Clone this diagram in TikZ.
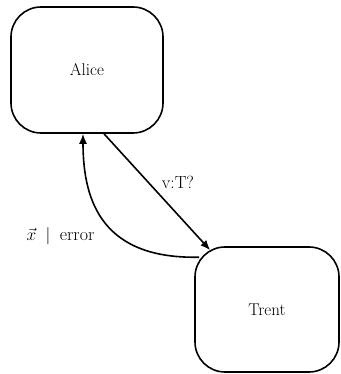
\documentclass[tikz,border=0pt]{standalone}
\usetikzlibrary{arrows.meta}
\begin{document}
\begin{tikzpicture}[x=1pt,y=1pt,
  party/.style={draw, line width=1.6pt, rounded corners=30pt, inner sep=0pt,
    font=\fontsize{17}{20}\selectfont},
  link/.style={line width=1.6pt, -{Latex[length=10pt,width=8pt]}},
  lbl/.style={inner sep=0pt, font=\fontsize{18}{21}\selectfont}]
  \useasboundingbox (0,0) rectangle (340,374);
  \node[party, minimum width=152pt, minimum height=126pt] (alice) at (87,304) {Alice};
  \node[party, minimum width=144pt, minimum height=125pt] (trent) at (267,64.5) {Trent};
  % request from Alice to Trent
  \draw[link] ([xshift=17pt]alice.south) -- ([shift={(16pt,-4pt)}]trent.north west);
  % reply back to Alice
  \draw[link] ([shift={(5pt,-11pt)}]trent.north west) .. controls +(-95pt,-2pt) and +(0pt,-70pt) .. ([xshift=-4pt]alice.south);
  \node[lbl, font=\fontsize{17.5}{21}\selectfont] (req) at (178,192) {v:T?};
  \node[lbl] (resp) at (60.5,138) {$\vec{x}$\hspace{4pt} $|$ \hspace{4pt}error};
\end{tikzpicture}
\end{document}
